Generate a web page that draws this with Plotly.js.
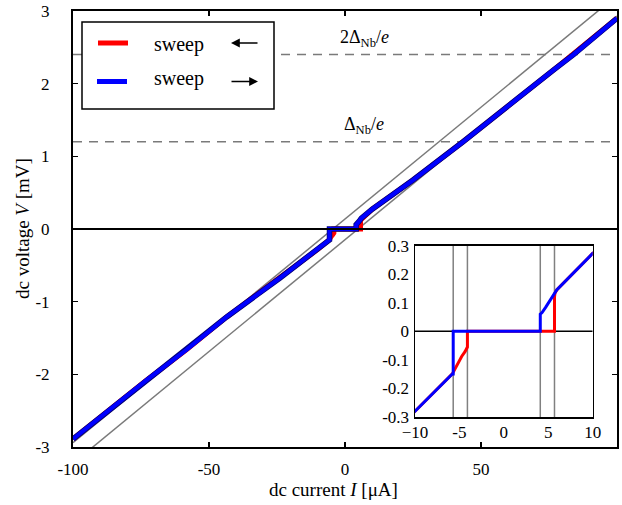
<!DOCTYPE html>
<html>
<head>
<meta charset="utf-8">
<script src="https://cdn.plot.ly/plotly-3.0.1.min.js"></script>
<style>html,body{margin:0;padding:0;background:#fff;}#chart{width:622px;height:505px;}</style>
</head>
<body>
<div id="chart"></div>
<script>
// ---- data ----
// sweep -> (blue): current in uA, voltage in mV
const blueI = [-100, -73, -58.2, -43.5, -23.9, -10, -5.8, -5.7, -5.7, 4.1, 4.1, 4.3, 4.7, 5.4, 5.95, 10, 25, 43.4, 76.6, 84, 100];
const blueV = [-2.89, -2.08, -1.66, -1.21, -0.674, -0.28, -0.149, -0.149, 0, 0, 0.06, 0.066, 0.084, 0.116, 0.145, 0.273, 0.674, 1.2, 2.187, 2.4, 2.90];
// sweep <- (red)
const redI = [100, 84, 76.6, 43.4, 25, 10, 5.95, 5.75, 5.7, 5.7, -4.1, -4.1, -4.18, -4.37, -4.75, -5.4, -5.8, -10, -23.9, -43.5, -58.2, -73, -100];
const redV = [2.90, 2.4, 2.187, 1.2, 0.674, 0.273, 0.145, 0.133, 0.12, 0, 0, -0.055, -0.062, -0.071, -0.088, -0.123, -0.149, -0.28, -0.674, -1.21, -1.66, -2.08, -2.89];
// normal-state asymptotes (gray)
const grayUpperI = [-100, 100];
const grayUpperV = [-2.94, 3.215];
const grayLowerI = [-100, 100];
const grayLowerV = [-3.225, 2.93];
// gap levels (dashed)
const gapLevels = [1.2, 2.4];
const gapLabels = ['Δ<sub>Nb</sub>/<i>e</i>', '2Δ<sub>Nb</sub>/<i>e</i>'];
// inset vertical markers (switching / retrapping currents)
const markerI = [-5.7, -4.1, 4.1, 5.7];
// axis ticks
const xTicks = [-100, -50, 0, 50, 100];
const xTickText = ['-100', '-50', '0', '50', '100'];
const yTicks = [-3, -2, -1, 0, 1, 2, 3];
const yTickText = ['-3', '-2', '-1', '0', '1', '2', '3'];
const ixTicks = [-10, -5, 0, 5, 10];
const ixTickText = ['\u221210', '-5', '0', '5', '10'];
const iyTicks = [-0.3, -0.2, -0.1, 0, 0.1, 0.2, 0.3];
const iyTickText = ['-0.3', '-0.2', '-0.1', '0', '0.1', '0.2', '0.3'];
const legendNames = ['sweep', 'sweep'];

// ---- layout helpers (pixel -> paper) ----
const W = 622, H = 505, ML = 73, MR = 5, MT = 11, MB = 58;
const PW = W - ML - MR, PH = H - MT - MB;
const px = x => (x - ML) / PW;
const py = y => (H - MB - y) / PH;
const FONT = "'Liberation Serif', 'Times New Roman', serif";

const traces = [];
// gray asymptotes
traces.push({x: grayUpperI, y: grayUpperV, mode: 'lines', line: {color: '#7a7a7a', width: 1.5}, xaxis: 'x', yaxis: 'y', hoverinfo: 'skip'});
traces.push({x: grayLowerI, y: grayLowerV, mode: 'lines', line: {color: '#7a7a7a', width: 1.5}, xaxis: 'x', yaxis: 'y', hoverinfo: 'skip'});
// dashed gap levels
gapLevels.forEach(v => traces.push({x: [-100, 100], y: [v, v], mode: 'lines', line: {color: '#7a7a7a', width: 1.5, dash: '9px,7px'}, xaxis: 'x', yaxis: 'y', hoverinfo: 'skip'}));
// main data
traces.push({x: redI, y: redV, mode: 'lines', line: {color: '#ff0000', width: 5}, xaxis: 'x', yaxis: 'y'});
traces.push({x: blueI, y: blueV, mode: 'lines', line: {color: '#00007a', width: 5.5}, xaxis: 'x', yaxis: 'y'});
traces.push({x: blueI, y: blueV, mode: 'lines', line: {color: '#0000ff', width: 4}, xaxis: 'x', yaxis: 'y'});
// zero line on top (main)
traces.push({x: [-100, 100], y: [0, 0], mode: 'lines', line: {color: '#000', width: 2}, xaxis: 'x', yaxis: 'y', hoverinfo: 'skip'});

// inset
markerI.forEach(i => traces.push({x: [i, i], y: [-0.3, 0.3], mode: 'lines', line: {color: '#808080', width: 1.5}, xaxis: 'x2', yaxis: 'y2', hoverinfo: 'skip'}));
traces.push({x: [-10, 10], y: [0, 0], mode: 'lines', line: {color: '#000', width: 1.5}, xaxis: 'x2', yaxis: 'y2', hoverinfo: 'skip'});
traces.push({x: redI, y: redV, mode: 'lines', line: {color: '#ff0000', width: 3}, xaxis: 'x2', yaxis: 'y2'});
traces.push({x: blueI, y: blueV, mode: 'lines', line: {color: '#0000ff', width: 3}, xaxis: 'x2', yaxis: 'y2'});

const tickFont = {family: FONT, size: 17, color: '#000'};

const layout = {
  width: W, height: H,
  margin: {l: ML, r: MR, t: MT, b: MB, pad: 0},
  paper_bgcolor: '#fff', plot_bgcolor: '#fff',
  showlegend: false,
  font: {family: FONT, color: '#000'},
  xaxis: {domain: [0, 1], range: [-100, 100], tickvals: xTicks, ticktext: xTickText, ticks: 'inside', ticklen: 5, tickwidth: 1.5, tickcolor: '#000',
          showline: true, linewidth: 2, linecolor: '#000', mirror: 'ticks', showgrid: false, zeroline: false, tickfont: tickFont, ticklabelstandoff: 6, anchor: 'y'},
  yaxis: {domain: [0, 1], range: [-3, 3], tickvals: yTicks, ticktext: yTickText, ticks: 'inside', ticklen: 5, tickwidth: 1.5, tickcolor: '#000',
          showline: true, linewidth: 2, linecolor: '#000', mirror: 'ticks', showgrid: false, zeroline: false, tickfont: tickFont, ticklabelstandoff: 18, anchor: 'x'},
  xaxis2: {domain: [px(415), px(592.7)], range: [-10, 10], tickvals: ixTicks, ticktext: ixTickText, ticks: '', showline: true, linewidth: 1.5, linecolor: '#000',
           mirror: true, showgrid: false, zeroline: false, tickfont: tickFont, anchor: 'y2', ticklabelstandoff: -1},
  yaxis2: {domain: [py(417), py(245.7)], range: [-0.3, 0.3], tickvals: iyTicks, ticktext: iyTickText, ticks: '', showline: true, linewidth: 1.5, linecolor: '#000',
           mirror: true, showgrid: false, zeroline: false, tickfont: tickFont, anchor: 'x2', ticklabelstandoff: 1},
  shapes: [
    // legend box
    {type: 'rect', xref: 'paper', yref: 'paper', x0: px(82), x1: px(274), y0: py(109), y1: py(22), fillcolor: '#fff', line: {color: '#000', width: 1.5}, layer: 'above'},
    {type: 'line', xref: 'paper', yref: 'paper', x0: px(98), x1: px(128), y0: py(43), y1: py(43), line: {color: '#ff0000', width: 5}, layer: 'above'},
    {type: 'line', xref: 'paper', yref: 'paper', x0: px(97), x1: px(127), y0: py(81.5), y1: py(81.5), line: {color: '#0000ff', width: 5}, layer: 'above'}
  ],
  annotations: [
    {xref: 'paper', yref: 'paper', x: px(152), y: py(44), xanchor: 'left', yanchor: 'middle', text: legendNames[0], showarrow: false, font: {family: FONT, size: 20, color: '#000'}},
    {xref: 'paper', yref: 'paper', x: px(152), y: py(79), xanchor: 'left', yanchor: 'middle', text: legendNames[1], showarrow: false, font: {family: FONT, size: 20, color: '#000'}},
    {xref: 'paper', yref: 'paper', x: px(231), y: py(43), ax: 28, ay: 0, text: '', showarrow: true, arrowhead: 2, arrowsize: 1.1, arrowwidth: 1.6, arrowcolor: '#000'},
    {xref: 'paper', yref: 'paper', x: px(258), y: py(81.5), ax: -28, ay: 0, text: '', showarrow: true, arrowhead: 2, arrowsize: 1.1, arrowwidth: 1.6, arrowcolor: '#000'},
    {xref: 'x', yref: 'y', x: 7, y: gapLevels[1], yshift: 16, xanchor: 'center', yanchor: 'middle', text: gapLabels[1], showarrow: false, font: {family: FONT, size: 18, color: '#000'}},
    {xref: 'x', yref: 'y', x: 7, y: gapLevels[0], yshift: 16, xanchor: 'center', yanchor: 'middle', text: gapLabels[0], showarrow: false, font: {family: FONT, size: 18, color: '#000'}},
    {xref: 'paper', yref: 'paper', x: px(333), y: py(490), xanchor: 'center', yanchor: 'middle', text: 'dc current <i>I</i> [μA]', showarrow: false, font: {family: FONT, size: 19, color: '#000'}},
    {xref: 'paper', yref: 'paper', x: px(22), y: py(229), xanchor: 'center', yanchor: 'middle', textangle: -90, text: 'dc voltage <i>V</i> [mV]', showarrow: false, font: {family: FONT, size: 19, color: '#000'}}
  ]
};

Plotly.newPlot('chart', traces, layout, {staticPlot: true, displayModeBar: false});
</script>
</body>
</html>
